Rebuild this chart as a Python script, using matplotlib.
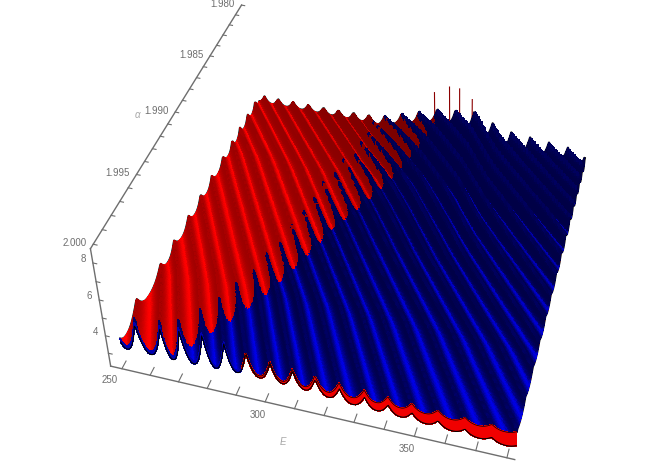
import numpy as np
import matplotlib
matplotlib.use('Agg')
import matplotlib.pyplot as plt
from matplotlib.collections import PolyCollection

# axis values
E_ticks = np.arange(250, 390, 10)
E_labels = [250, 300, 350]
alpha_ticks = np.arange(1.980, 2.0005, 0.001)
alpha_labels = [2.000, 1.995, 1.990, 1.985, 1.980]
z_ticks = [3, 4, 5, 6, 7, 8]
z_labels = [4, 6, 8]

# ridge positions along the front edge (alpha = 2)
ridge_E = [232, 240, 248, 256, 264.8, 271.5, 279.4, 286.7, 294, 302, 309.5, 317, 325,
           333.3, 341, 348.8, 357.3, 366, 374.6, 383, 391.5, 400, 409, 418.5, 428, 438,
           448, 458, 468, 478, 488, 498, 508, 518, 528, 538]
# how far the ridges lean toward low E as t goes from front (0) to back (1)
lean_t = [0, 0.25, 0.5, 0.75, 1.0]
lean = [0, 0.055, 0.12, 0.185, 0.26]

# heights, rows follow table_t
table_E = [250, 280, 300, 325, 340, 350, 382.5]
table_t = [0, 0.15, 0.5, 1.0]
amp_table = [[1.5, 1.8, 1.0, 0.7, 0.5, 0.4, 0.2],
             [0.6, 1.2, 0.8, 0.6, 0.5, 0.4, 0.25],
             [0.5, 0.55, 0.5, 0.45, 0.4, 0.4, 0.3],
             [0.4, 0.4, 0.5, 0.8, 1.2, 1.2, 0.9]]
base_table = [[3.4, 3.4, 3.4, 3.35, 3.4, 3.4, 3.4],
              [3.3, 3.3, 3.3, 3.3, 3.3, 3.3, 3.3],
              [3.2, 3.2, 3.2, 3.2, 3.2, 3.2, 3.2],
              [3.0, 3.0, 3.0, 3.9, 3.8, 3.0, 2.8]]

# where red gives way to blue, in front-edge E
split_E = [268, 272, 279, 344, 383, 438]
split_t = [0, 0.02, 0.07, 0.53, 0.74, 1.0]
spike_E = [262, 280, 344, 383, 438]
spike_t = [0.02, 0.03, 0.13, 0.16, 0.2]

# stripes
blue_gain_t = [0, 0.3, 0.6, 1.0]
blue_gain = [1.0, 0.9, 0.7, 0.45]
blue_width = [0.28, 0.22, 0.14, 0.08]
red_gain_E = [280, 340, 400, 440]
red_gain = [1.0, 1.0, 0.6, 0.1]
red_base = [160, 150, 125, 120]
red_width = [0.28, 0.24, 0.15, 0.1]

# front wall under the surface
wall_E = [250, 270, 290, 310, 330, 350, 370, 382.5]
wall_thick = [0.2, 0.2, 0.1, 0.15, 0.4, 0.55, 0.7, 0.8]
wall_switch_E = 292

# thin noise spikes on the back edge
noise_E = [323, 329, 333, 338]
noise_top = [5.6, 6.1, 6.1, 5.6]

# camera: box points and where they land on the picture
box_pts = [(246, 2.0003, 2.25), (246, 2.0003, 8.75), (246, 1.98, 8.75), (382.5, 2.0003, 2.25),
           (300, 2.0003, 2.25), (350, 2.0003, 2.25), (246, 2.0003, 8), (246, 2.0003, 6),
           (246, 2.0003, 4), (246, 1.99, 8.75), (246, 1.995, 8.75),
           (250, 1.98, 3.3), (382.5, 1.98, 3.5), (382.5, 2.0, 3.6), (250, 2.0, 4.0)]
pic_pts = [(112, 366), (89, 248), (243, 5), (517, 459),
           (265, 402), (416, 436), (92, 263), (99.5, 300),
           (106.5, 335), (176, 113), (137, 174),
           (257, 97), (585, 155), (513, 432), (118, 335)]


def norm_xyz(E, a, z):
    return (np.asarray(E, float) - 250) / 130, (2 - np.asarray(a, float)) / 0.02, (np.asarray(z, float) - 2.25) / 6.5


def fit_camera():
    rows = []
    for (E, a, z), (x, y) in zip(box_pts, pic_pts):
        u, v, w = norm_xyz(E, a, z)
        rows.append([u, v, w, 1, 0, 0, 0, 0, -x * u, -x * v, -x * w, -x])
        rows.append([0, 0, 0, 0, u, v, w, 1, -y * u, -y * v, -y * w, -y])
    vt = np.linalg.svd(np.array(rows))[2]
    return vt[-1].reshape(3, 4)


P = fit_camera()
cam = np.linalg.svd(P)[2][-1]
cam = cam[:3] / cam[3]


def project(E, a, z):
    u, v, w = norm_xyz(E, a, z)
    h = P[2, 0] * u + P[2, 1] * v + P[2, 2] * w + P[2, 3]
    x = (P[0, 0] * u + P[0, 1] * v + P[0, 2] * w + P[0, 3]) / h
    y = (P[1, 0] * u + P[1, 1] * v + P[1, 2] * w + P[1, 3]) / h
    return x, y


def t_to_a(t):
    return 2 - 0.02 * np.asarray(t)


def table_lookup(table, E, t):
    rows = np.array([np.interp(E, table_E, r) for r in table])
    out = np.zeros_like(E, dtype=float)
    i = np.clip(np.searchsorted(table_t, t, side='right') - 1, 0, len(table_t) - 2)
    lo = np.take(table_t, i)
    hi = np.take(table_t, i + 1)
    k = (t - lo) / (hi - lo)
    for j in range(len(table_t) - 1):
        m = i == j
        out[m] = rows[j][m] * (1 - k[m]) + rows[j + 1][m] * k[m]
    return out


def ridge_phase(E, t):
    E0 = E / (1 - np.interp(t, lean_t, lean))
    ph = np.interp(E0, ridge_E, np.arange(len(ridge_E)))
    return E0, ph - np.floor(ph)


def height(E, t):
    f = ridge_phase(E, t)[1]
    d = np.abs(2 * f - 1)
    return table_lookup(base_table, E, t) + table_lookup(amp_table, E, t) * d ** 2.2


def colours(E, t):
    E0, f = ridge_phase(E, t)
    d = np.abs(2 * f - 1)
    is_red = t > np.interp(E0, split_E, split_t) + np.interp(E0, spike_E, spike_t) * d ** 8
    w_blue = np.interp(t, blue_gain_t, blue_width)
    s_blue = np.interp(t, blue_gain_t, blue_gain)
    blue = 70 + 165 * s_blue * np.exp(-((f - 0.45) / w_blue) ** 2) + 25 * d ** 16
    s_red = np.interp(E0, red_gain_E, red_gain)
    r0 = np.interp(E0, red_gain_E, red_base)
    w_red = np.interp(E0, red_gain_E, red_width)
    red = r0 + (255 - r0) * s_red * np.exp(-((f - 0.42) / w_red) ** 2)
    rgb = np.zeros(E.shape + (3,))
    rgb[..., 0] = np.where(is_red, red, 0) / 255
    rgb[..., 2] = np.where(is_red, 0, np.minimum(blue, 255)) / 255
    return rgb


fig = plt.figure(figsize=(6.68, 4.61), dpi=100)
ax = fig.add_axes([0, 0, 1, 1])
ax.set_xlim(0, 668)
ax.set_ylim(461, 0)
ax.axis('off')

# surface mesh
n_E, n_t = 340, 260
E_grid = np.linspace(250, 382.5, n_E)
t_grid = np.linspace(0, 1, n_t)
EE, TT = np.meshgrid(E_grid, t_grid)
ZZ = height(EE, TT)
XX, YY = project(EE, t_to_a(TT), ZZ)
quads = np.stack([np.stack([XX[:-1, :-1], YY[:-1, :-1]], -1), np.stack([XX[:-1, 1:], YY[:-1, 1:]], -1),
                  np.stack([XX[1:, 1:], YY[1:, 1:]], -1), np.stack([XX[1:, :-1], YY[1:, :-1]], -1)], 2)
Em = 0.5 * (EE[:-1, :-1] + EE[1:, 1:])
Tm = 0.5 * (TT[:-1, :-1] + TT[1:, 1:])
cols = colours(Em, Tm)
u, v, w = norm_xyz(Em, t_to_a(Tm), 0.25 * (ZZ[:-1, :-1] + ZZ[1:, 1:] + ZZ[:-1, 1:] + ZZ[1:, :-1]))
dist = (u - cam[0]) ** 2 + (v - cam[1]) ** 2 + (w - cam[2]) ** 2
order = np.argsort(-dist.ravel())
mesh = PolyCollection(quads.reshape(-1, 4, 2)[order], facecolors=cols.reshape(-1, 3)[order],
                      edgecolors='face', linewidths=0.4, antialiased=False, zorder=3)
ax.add_collection(mesh)

# black rims sit under the mesh so only the outer side shows
ax.plot(XX[-1, :], YY[-1, :], color='k', lw=1.6, zorder=2)
ax.plot(XX[:, 0], YY[:, 0], color='k', lw=1.6, zorder=2)
ax.plot(XX[:, -1], YY[:, -1], color='k', lw=1.6, zorder=2)
low_right = TT[:, -1] < 0.6
ax.plot(XX[low_right, -1], YY[low_right, -1], color='#f00000', lw=0.9, ls=(0, (3, 4)), zorder=2.1)

# noise spikes along the back edge
for e, top in zip(noise_E, noise_top):
    nx, ny = project([e, e], t_to_a([1, 1]), [4.0, top])
    ax.plot(nx, ny, color='#8b0000', lw=0.8, zorder=2.5)

# front wall
wall_d = np.interp(E_grid, wall_E, wall_thick)
top_z = ZZ[0, :]
wx0, wy0 = XX[0, :], YY[0, :]
wx1, wy1 = project(E_grid, t_to_a(np.zeros(n_E)), top_z - wall_d)
wall_q = np.stack([np.stack([wx0[:-1], wy0[:-1]], -1), np.stack([wx0[1:], wy0[1:]], -1),
                   np.stack([wx1[1:], wy1[1:]], -1), np.stack([wx1[:-1], wy1[:-1]], -1)], 1)
wall_c = ['#f00000' if e > wall_switch_E else '#0000b0' for e in E_grid[:-1]]
ax.add_collection(PolyCollection(wall_q, facecolors=wall_c, edgecolors='face', linewidths=0.4,
                                 antialiased=False, zorder=4))
ax.plot(wx1, wy1, color='k', lw=0.8, zorder=5)
right_part = E_grid > wall_switch_E
ax.plot(wx0[right_part], wy0[right_part], color='k', lw=0.5, zorder=5)

# axis frame
gray = '#6e6e6e'
ax.plot(*project([246, 382.5], [2.0003, 2.0003], [2.25, 2.25]), color=gray, lw=1, zorder=1)
ax.plot(*project([246, 246], [2.0003, 2.0003], [2.25, 8.75]), color=gray, lw=1, zorder=1)
ax.plot(*project([246, 246], [2.0003, 1.98], [8.75, 8.75]), color=gray, lw=1, zorder=1)

for e in E_ticks:
    ax.plot(*project([e, e], [2.0003, 1.9998], [2.25, 2.25]), color=gray, lw=0.8, zorder=1)
for a in alpha_ticks:
    ax.plot(*project([246, 247.3], [a, a], [8.75, 8.75]), color=gray, lw=0.8, zorder=1)
for z in z_ticks:
    ax.plot(*project([246, 247.3], [2.0003, 2.0003], [z, z]), color=gray, lw=0.8, zorder=1)

txt = dict(textcoords='offset pixels', fontsize=7, color=gray, family='Liberation Sans',
           ha='center', va='center')
for e, off in zip(E_labels, [(-12, -11), (-7, -13), (-8, -13)]):
    ax.annotate(str(e), project(e, 2.0003, 2.25), xytext=off, **txt)
for a in alpha_labels:
    ax.annotate('%.3f' % a, project(246, a, 8.75), xytext=(-19, 1), **txt)
for z in z_labels:
    ax.annotate(str(z), project(246, 2.0003, z), xytext=(-10, 4), **txt)

lab = dict(txt)
lab.update(color='#a8a8a8', style='italic')
ax.annotate('E', project(305, 2.0003, 2.25), xytext=(3, -37), **lab)
ax.annotate('\u03b1', project(246, 1.99, 8.75), xytext=(-38, -3), **lab)

fig.savefig('out.png', dpi=100)
